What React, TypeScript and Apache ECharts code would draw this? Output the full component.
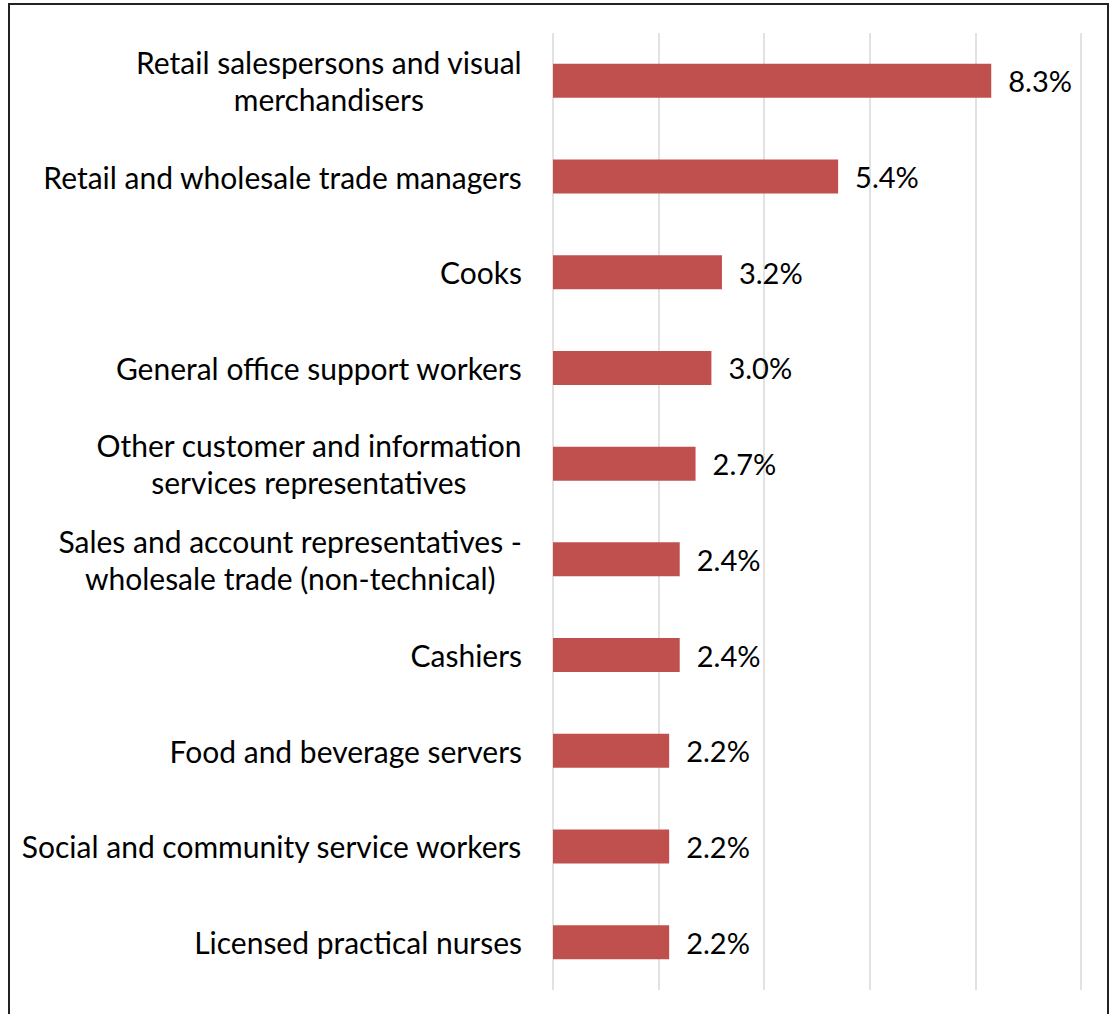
import React, { useEffect, useRef } from "react";
import * as echarts from "echarts";

const categories: string[] = [
  "Retail salespersons and visual\nmerchandisers",
  "Retail and wholesale trade managers",
  "Cooks",
  "General office support workers",
  "Other customer and information\nservices representatives",
  "Sales and account representatives -\nwholesale trade (non-technical)",
  "Cashiers",
  "Food and beverage servers",
  "Social and community service workers",
  "Licensed practical nurses",
];

const values: number[] = [8.3, 5.4, 3.2, 3.0, 2.7, 2.4, 2.4, 2.2, 2.2, 2.2];

const FONT = "Lato, 'Open Sans', sans-serif";
const FS = 30;
const FS_VAL = 29;

export default function App() {
  const ref = useRef<HTMLDivElement>(null);
  useEffect(() => {
    if (!ref.current) return;
    const chart = echarts.init(ref.current, undefined, { renderer: "svg" });
    chart.setOption({
      animation: false,
      backgroundColor: "#ffffff",
      graphic: [
        {
          type: "rect",
          shape: { x: 9, y: 4, width: 1099, height: 1030 },
          style: { fill: "none", stroke: "#222222", lineWidth: 2 },
          silent: true,
          z: 100,
        },
      ],
      grid: { left: 553, top: 33, width: 528, height: 957, containLabel: false },
      xAxis: {
        type: "value",
        min: 0,
        max: 10,
        interval: 2,
        axisLabel: { show: false },
        axisLine: { show: false },
        axisTick: { show: false },
        splitLine: { show: true, lineStyle: { color: "#d9d9d9", width: 1.5 } },
      },
      yAxis: {
        type: "category",
        data: categories,
        inverse: true,
        axisLine: { show: false },
        axisTick: { show: false },
        axisLabel: {
          margin: 31,
          color: "#000000",
          fontFamily: FONT,
          fontSize: FS,
          lineHeight: 37,
          align: "right",
          formatter: (v: string) =>
            v
              .split("\n")
              .map((l) => "{c|" + l + "}")
              .join("\n"),
          rich: {
            c: {
              align: "center",
              color: "#000000",
              fontFamily: FONT,
              fontSize: FS,
              lineHeight: 37,
            },
          },
        },
      },
      series: [
        {
          type: "bar",
          data: values,
          barWidth: 34,
          itemStyle: { color: "#C0504D" },
          label: {
            show: true,
            position: "right",
            distance: 17,
            color: "#000000",
            fontFamily: FONT,
            fontSize: FS_VAL,
            formatter: (p: any) => p.value.toFixed(1) + "%",
          },
        },
      ],
    });
    return () => chart.dispose();
  }, []);
  return (
    <div
      ref={ref}
      style={{ position: "absolute", left: 0, top: 0, width: 1110, height: 1014 }}
    />
  );
}
